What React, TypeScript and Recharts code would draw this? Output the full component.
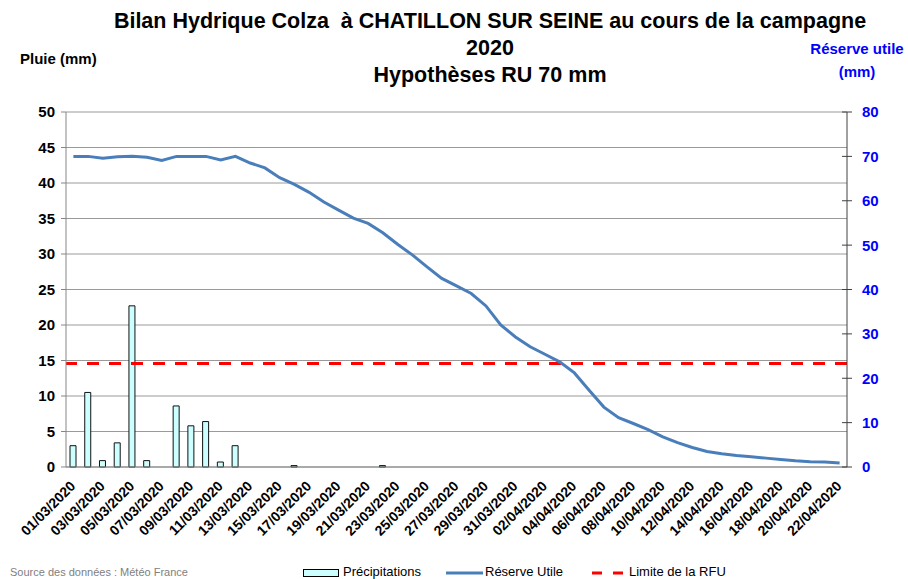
import React from 'react';
import {
  ComposedChart,
  Bar,
  Line,
  XAxis,
  YAxis,
  CartesianGrid,
  ReferenceLine,
} from 'recharts';

const dates = [
  '01/03/2020', '02/03/2020', '03/03/2020', '04/03/2020', '05/03/2020', '06/03/2020',
  '07/03/2020', '08/03/2020', '09/03/2020', '10/03/2020', '11/03/2020', '12/03/2020',
  '13/03/2020', '14/03/2020', '15/03/2020', '16/03/2020', '17/03/2020', '18/03/2020',
  '19/03/2020', '20/03/2020', '21/03/2020', '22/03/2020', '23/03/2020', '24/03/2020',
  '25/03/2020', '26/03/2020', '27/03/2020', '28/03/2020', '29/03/2020', '30/03/2020',
  '31/03/2020', '01/04/2020', '02/04/2020', '03/04/2020', '04/04/2020', '05/04/2020',
  '06/04/2020', '07/04/2020', '08/04/2020', '09/04/2020', '10/04/2020', '11/04/2020',
  '12/04/2020', '13/04/2020', '14/04/2020', '15/04/2020', '16/04/2020', '17/04/2020',
  '18/04/2020', '19/04/2020', '20/04/2020', '21/04/2020', '22/04/2020',
];

// pluie journaliere (mm)
const precipitations = [
  3.0, 10.5, 0.9, 3.4, 22.7, 0.9, 0, 8.6, 5.8, 6.4, 0.7, 3.0,
  0, 0, 0, 0.2, 0, 0, 0, 0, 0, 0.2, 0, 0,
  0, 0, 0, 0, 0, 0, 0, 0, 0, 0, 0, 0,
  0, 0, 0, 0, 0, 0, 0, 0, 0, 0, 0, 0,
  0, 0, 0, 0, 0,
];

// reserve utile (mm), axe de droite
const reserveUtile = [
  70, 70, 69.6, 69.9, 70, 69.8, 69.1, 70, 70, 70, 69.2, 70, 68.5,
  67.4, 65.2, 63.7, 61.9, 59.7, 57.9, 56.1, 54.9, 52.8, 50.2,
  47.8, 45.1, 42.5, 40.8, 39.1, 36.3, 32.0, 29.3, 27.1, 25.4,
  23.7, 21.2, 17.3, 13.5, 11.1, 9.8, 8.4, 6.8, 5.5, 4.4,
  3.5, 3.0, 2.6, 2.3, 2.0, 1.7, 1.4, 1.2, 1.1, 0.9,
];

const limiteRFU = 23.3;

const pluieTicks = [0, 5, 10, 15, 20, 25, 30, 35, 40, 45, 50];
const ruTicks = [0, 10, 20, 30, 40, 50, 60, 70, 80];

const FONT = '"Liberation Sans", Arial, sans-serif';
const BLUE = '#0000FF';

const data = dates.map((d, i) => ({
  date: d,
  pluie: precipitations[i],
  ru: reserveUtile[i],
}));

function DateTick({ x, y, payload }: any) {
  return (
    <g transform={`translate(${x + 3},${y + 12})`}>
      <text
        x={0}
        y={0}
        textAnchor="end"
        transform="rotate(-45)"
        fontFamily={FONT}
        fontWeight="bold"
        fontSize={14}
        fill="#000"
      >
        {payload.value}
      </text>
    </g>
  );
}

function RightTick({ x, y, payload }: any) {
  return (
    <g>
      <line x1={x - 5} y1={y} x2={x + 5} y2={y} stroke="#404040" strokeWidth={1} />
      <text
        x={x + 15}
        y={y}
        dy="0.36em"
        textAnchor="start"
        fontFamily={FONT}
        fontWeight="bold"
        fontSize={15}
        fill={BLUE}
      >
        {payload.value}
      </text>
    </g>
  );
}

function LegendRow() {
  const txt: React.CSSProperties = { fontFamily: FONT, fontSize: 13, color: '#000' };
  return (
    <>
      <svg style={{ position: 'absolute', left: 303, top: 568 }} width={37} height={10}>
        <rect x={0.5} y={1.5} width={35} height={7} fill="#CCFFFF" stroke="#000" strokeWidth={1} />
      </svg>
      <div style={{ ...txt, position: 'absolute', left: 343, top: 564 }}>Précipitations</div>
      <svg style={{ position: 'absolute', left: 446, top: 568 }} width={37} height={10}>
        <line x1={0} y1={5} x2={37} y2={5} stroke="#4A7EBB" strokeWidth={3} />
      </svg>
      <div style={{ ...txt, position: 'absolute', left: 485, top: 564 }}>Réserve Utile</div>
      <svg style={{ position: 'absolute', left: 592, top: 568 }} width={33} height={10}>
        <line x1={0} y1={5} x2={33} y2={5} stroke="#FF0000" strokeWidth={3} strokeDasharray="10 11" />
      </svg>
      <div style={{ ...txt, position: 'absolute', left: 629, top: 564 }}>Limite de la RFU</div>
    </>
  );
}

export default function App() {
  return (
    <div
      style={{
        position: 'absolute',
        left: 0,
        top: 0,
        width: 908,
        height: 579,
        background: '#fff',
        fontFamily: FONT,
        overflow: 'hidden',
      }}
    >
      <ComposedChart
        width={908}
        height={579}
        data={data}
        margin={{ top: 112, right: 0, left: 0, bottom: 0 }}
      >
        <CartesianGrid yAxisId="left" vertical={false} stroke="#9a9a9a" strokeWidth={1} />
        <XAxis
          dataKey="date"
          interval={1}
          height={112}
          tick={<DateTick />}
          tickLine={false}
          axisLine={{ stroke: '#868686' }}
        />
        <YAxis
          yAxisId="left"
          orientation="left"
          width={66}
          domain={[0, 50]}
          ticks={pluieTicks}
          tickSize={5}
          tickMargin={6}
          axisLine={{ stroke: '#868686' }}
          tickLine={{ stroke: '#868686' }}
          tick={{ fontFamily: FONT, fontWeight: 'bold', fontSize: 15, fill: '#000' }}
        />
        <YAxis
          yAxisId="right"
          orientation="right"
          width={61}
          domain={[0, 80]}
          ticks={ruTicks}
          tickSize={0}
          tickMargin={0}
          tickLine={false}
          axisLine={{ stroke: '#404040' }}
          tick={<RightTick />}
        />
        <Bar
          yAxisId="left"
          dataKey="pluie"
          name="Précipitations"
          barSize={6}
          fill="#CCFFFF"
          stroke="#111"
          strokeWidth={1}
          isAnimationActive={false}
        />
        <ReferenceLine
          yAxisId="right"
          y={limiteRFU}
          stroke="#FF0000"
          strokeWidth={3}
          strokeDasharray="12 10"
        />
        <Line
          yAxisId="right"
          dataKey="ru"
          name="Réserve Utile"
          type="linear"
          stroke="#4A7EBB"
          strokeWidth={3}
          dot={false}
          activeDot={false}
          isAnimationActive={false}
        />
      </ComposedChart>

      <div
        style={{
          position: 'absolute',
          left: 40,
          top: 8,
          width: 900,
          textAlign: 'center',
          fontWeight: 'bold',
          fontSize: 21.5,
          lineHeight: '27px',
          color: '#000',
        }}
      >
        <div>Bilan Hydrique Colza&nbsp; à CHATILLON SUR SEINE au cours de la campagne</div>
        <div>2020</div>
        <div>Hypothèses RU 70 mm</div>
      </div>

      <div style={{ position: 'absolute', left: 20, top: 50, fontWeight: 'bold', fontSize: 15 }}>
        Pluie (mm)
      </div>
      <div
        style={{
          position: 'absolute',
          left: 797,
          top: 37,
          width: 120,
          textAlign: 'center',
          fontWeight: 'bold',
          fontSize: 15,
          lineHeight: '23px',
          color: BLUE,
        }}
      >
        <div>Réserve utile</div>
        <div>(mm)</div>
      </div>

      <div style={{ position: 'absolute', left: 10, top: 566, fontSize: 11, color: '#808080' }}>
        Source des données : Météo France
      </div>

      <LegendRow />
    </div>
  );
}
